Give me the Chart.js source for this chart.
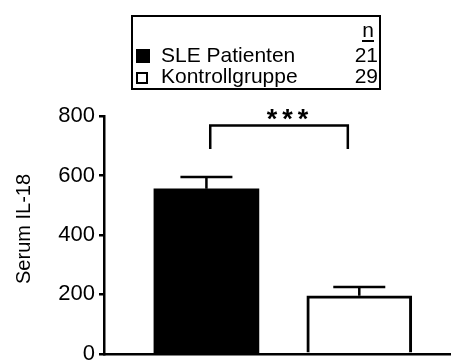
<!DOCTYPE html>
<html>
<head>
<meta charset="utf-8">
<script src="https://cdn.jsdelivr.net/npm/chart.js@4.4.1/dist/chart.umd.min.js"></script>
<style>
    html, body { margin: 0; padding: 0; background: #fff; overflow: hidden; }
    #wrap { position: relative; width: 451px; height: 362px; overflow: hidden; }
    #legend {
        position: absolute; left: 131px; top: 15px; width: 246px; height: 71px;
        border: 2.5px solid #000; font-family: "Liberation Sans", Arial, sans-serif;
        font-size: 21px; line-height: 21px; color: #000;
    }
    #legend .row { position: absolute; left: 0; right: 1px; height: 21px; }
    #legend .sw { position: absolute; box-sizing: border-box; }
    #legend .lbl { position: absolute; left: 28px; top: 0; white-space: nowrap; }
    #legend .n { position: absolute; right: 0; top: 0; }
    #legend .nhead { position: absolute; right: 5px; top: 2px; height: 21px; border-bottom: 2.5px solid #000; }
</style>
</head>
<body>
<div id="wrap">
    <canvas id="chart" width="451" height="371"></canvas>
    <div id="legend"></div>
</div>
<script>
// data
const groups = ['SLE Patienten', 'Kontrollgruppe'];
const counts = [21, 29];
const means = [555, 195];
const sems = [40, 30];
const yTicks = [0, 200, 400, 600, 800];
const yTitle = 'Serum IL-18';
const sigLabel = '***';

const fills = ['#000000', '#ffffff'];

// legend box
const legend = document.getElementById('legend');
let html = '<div class="nhead">n</div>';
groups.forEach((g, i) => {
    const top = 27 + i * 21;
    const sw = i === 0
        ? `<div class="sw" style="background:#000;left:2.5px;top:4.5px;width:14px;height:14px"></div>`
        : `<div class="sw" style="background:#fff;border:2.5px solid #000;left:3px;top:7px;width:12px;height:12px"></div>`;
    html += `<div class="row" style="top:${top}px">${sw}<span class="lbl">${g}</span><span class="n">${counts[i]}</span></div>`;
});
legend.innerHTML = html;

const font = '"Liberation Sans", Arial, sans-serif';

// error bars (upper only), significance bracket, y title
const extras = {
    id: 'extras',
    afterDatasetsDraw(chart) {
        const ctx = chart.ctx;
        const y = chart.scales.y;
        const x = chart.scales.x;
        const meta = chart.getDatasetMeta(0);
        ctx.save();
        ctx.strokeStyle = '#000';
        ctx.lineWidth = 2.5;
        meta.data.forEach((bar, i) => {
            const top = y.getPixelForValue(means[i] + sems[i]);
            const base = y.getPixelForValue(means[i]);
            ctx.beginPath();
            ctx.moveTo(bar.x, base);
            ctx.lineTo(bar.x, top);
            ctx.moveTo(bar.x - 26, top);
            ctx.lineTo(bar.x + 26, top);
            ctx.stroke();
        });
        // bracket between the two groups
        const x1 = x.getPixelForValue(1.025);
        const x2 = x.getPixelForValue(1.925);
        const yTop = y.getPixelForValue(768);
        const yLow = y.getPixelForValue(689);
        ctx.beginPath();
        ctx.moveTo(x1, yLow);
        ctx.lineTo(x1, yTop);
        ctx.lineTo(x2, yTop);
        ctx.lineTo(x2, yLow);
        ctx.stroke();
        ctx.fillStyle = '#000';
        ctx.font = 'bold 27px ' + font;
        ctx.textAlign = 'center';
        ctx.textBaseline = 'alphabetic';
        ctx.letterSpacing = '5px';
        ctx.fillText(sigLabel, (x1 + x2) / 2 + 11, yTop + 2);
        ctx.letterSpacing = '0px';
        // y axis title
        ctx.translate(24, y.getPixelForValue(420));
        ctx.rotate(-Math.PI / 2);
        ctx.font = '20px ' + font;
        ctx.textBaseline = 'middle';
        ctx.fillText(yTitle, 0, 0);
        ctx.restore();
    }
};

new Chart(document.getElementById('chart'), {
    type: 'bar',
    data: {
        datasets: [{
            data: groups.map((g, i) => ({ x: i + 1, y: means[i] })),
            backgroundColor: fills,
            borderColor: '#000',
            borderWidth: [0, 3],
            borderSkipped: 'bottom',
            barThickness: 105
        }]
    },
    options: {
        responsive: false,
        animation: false,
        layout: { padding: { top: 116, right: 0, bottom: 0, left: 0 } },
        plugins: { legend: { display: false }, tooltip: { enabled: false } },
        scales: {
            x: {
                type: 'linear',
                offset: false,
                min: 0.33,
                max: 2.6,
                ticks: { display: false },
                grid: { display: false },
                border: { color: '#000', width: 2.5 },
                afterFit(s) { s.height = 8; }
            },
            y: {
                min: 0,
                max: 800,
                afterBuildTicks(s) { s.ticks = yTicks.map(v => ({ value: v })); },
                ticks: { color: '#000', font: { family: font, size: 22 }, padding: 4 },
                grid: { drawOnChartArea: false, drawTicks: true, tickLength: 5, color: '#000', lineWidth: 2.5 },
                border: { color: '#000', width: 2.5 },
                afterFit(s) { s.width = 104; }
            }
        }
    },
    plugins: [extras]
});
</script>
</body>
</html>
